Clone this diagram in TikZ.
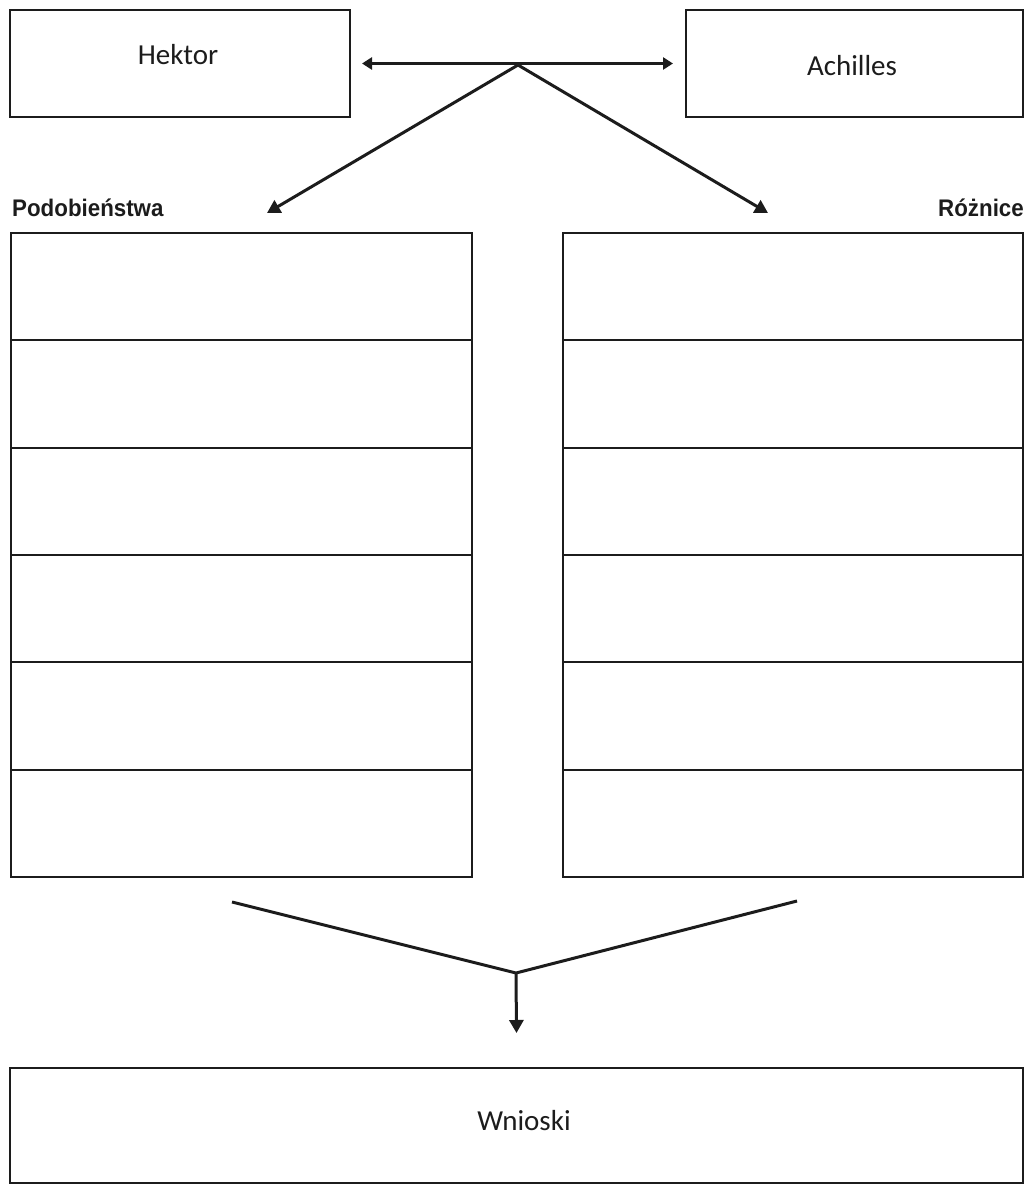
\documentclass[tikz,border=0pt]{standalone}
\usepackage{fontspec}
\setmainfont{Carlito}
\newfontfamily\headfont{Liberation Sans}
\usetikzlibrary{arrows.meta}
\definecolor{ink}{HTML}{1C1C1C}
\tikzset{
  box/.style={draw=ink, line width=2pt, rectangle, inner sep=0pt, outer sep=0pt},
  rowbox/.style={box, minimum height=107.33pt},
  lbl/.style={font=\fontsize{29}{33}\selectfont, text=ink, inner sep=0pt},
  head/.style={font=\headfont\bfseries\fontsize{24}{28}\selectfont, text=ink, inner sep=0pt},
  conn/.style={draw=ink, line width=3pt},
  tip/.style={-{Triangle[length=13pt,width=14pt]}},
  dtip/.style={{Triangle[length=10pt,width=12pt]}-{Triangle[length=10pt,width=12pt]}}
}
\begin{document}
\begin{tikzpicture}[x=1pt,y=-1pt]
\useasboundingbox (0,0) rectangle (1025,1185);
% top boxes
\node[box, minimum width=340pt, minimum height=107pt] (hek) at (180,63.5) {};
\node[box, minimum width=337pt, minimum height=107pt] (ach) at (854.5,63.5) {};
\node[lbl] (hekt) at (178,55) {Hektor};
\node[lbl] (acht) at (852,66) {Achilles};
% connectors at top
\coordinate (apex) at (518,65);
\coordinate (tipL) at (267,213);
\coordinate (tipR) at (768,213);
\draw[conn, dtip] ([xshift=12pt]hek.east) -- ([xshift=-13pt]ach.west);
\draw[conn, tip] (apex) -- (tipL);
\draw[conn, tip] (apex) -- (tipR);
% headings
\node[head, anchor=base west] (podo) at (12,216) {\scalebox{0.93}[1]{Podobieństwa}};
\node[head, anchor=base east] (rozn) at (1024,216) {\scalebox{0.93}[1]{Różnice}};
% column rows
\foreach \i in {1,...,6} {
  \node[rowbox, minimum width=461pt] (L\i) at (241.5,{233+107.33*(\i-0.5)}) {};
  \node[rowbox, minimum width=460pt] (R\i) at (793,{233+107.33*(\i-0.5)}) {};
}
% bottom
\node[box, minimum width=1013pt, minimum height=115pt] (wn) at (516.5,1125.5) {};
\node[lbl] (wnt) at (524,1121) {Wnioski};
\coordinate (vl) at (232,902);
\coordinate (vr) at (797,901);
\coordinate (vapex) at (516,973);
\draw[conn, line join=miter] (vl) -- (vapex) -- (vr);
\draw[conn, tip] (vapex) -- ([yshift=35pt]wn.north);
\end{tikzpicture}
\end{document}
